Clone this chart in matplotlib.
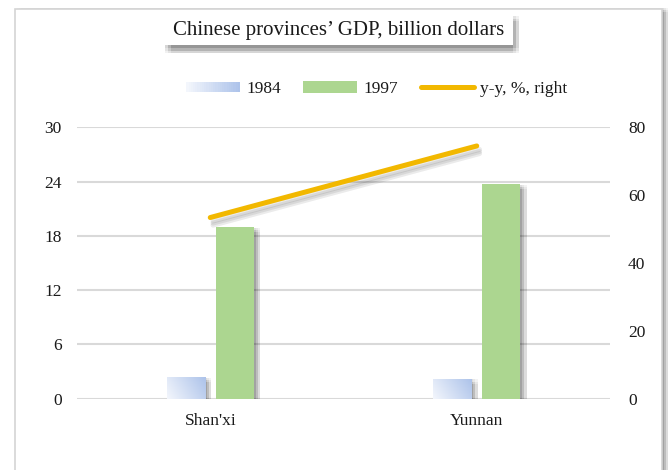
import numpy as np
import matplotlib
matplotlib.use("Agg")
import matplotlib.pyplot as plt
import matplotlib.patheffects as pe
from matplotlib.patches import Rectangle
from matplotlib.legend_handler import HandlerBase
from matplotlib.lines import Line2D
from matplotlib.colors import LinearSegmentedColormap

# ---- data ----
categories = ["Shan'xi", "Yunnan"]
gdp_1984 = [2.4, 2.2]
gdp_1997 = [19.0, 23.7]
yy_growth = [53.4, 74.5]
left_ticks = [0, 6, 12, 18, 24, 30]
right_ticks = [0, 20, 40, 60, 80]
title = "Chinese provinces\u2019 GDP, billion dollars"
series_labels = ["1984", "1997", "y-y, %, right"]

# ---- style ----
plt.rcParams['font.family'] = ['Liberation Serif', 'DejaVu Serif']
plt.rcParams['font.size'] = 12.5
GREEN = "#acd690"
BLUE_DARK = "#adc3ea"
BLUE_LIGHT = "#f3f6fc"
GOLD = "#f2b800"
GRID = "#d9d9d9"
TEXT = "#1a1a1a"
cmap = LinearSegmentedColormap.from_list("g", [BLUE_LIGHT, BLUE_DARK])


def soft_patch_shadow(dx, dy, spread=2, alpha=0.3, n=3):
    effs = []
    steps = np.linspace(-spread, spread, n)
    a = 1 - (1 - alpha) ** (1.0 / (n * n))
    for sx in steps:
        for sy in steps:
            effs.append(pe.SimplePatchShadow(offset=(dx + sx, dy + sy), shadow_rgbFace="k", alpha=a))
    return effs + [pe.Normal()]


def soft_line_shadow(dx, dy, spread=1.5, alpha=0.25, n=3):
    effs = []
    steps = np.linspace(-spread, spread, n)
    a = 1 - (1 - alpha) ** (1.0 / n)
    for sy in steps:
        effs.append(pe.SimpleLineShadow(offset=(dx, dy + sy), shadow_color="k", alpha=a))
    return effs + [pe.Normal()]


W, H = 672, 470
fig = plt.figure(figsize=(W / 100, H / 100), dpi=100)

# outer frame with soft right shadow
frame = Rectangle((15 / W, -0.05), (662 - 15) / W, 1.05 - 9 / H,
                  transform=fig.transFigure, fc="white", ec="#d4d4d4", lw=1.2,
                  path_effects=soft_patch_shadow(3, -1, spread=1.5, alpha=0.35), zorder=-10)
fig.add_artist(frame)

ax = fig.add_axes([77 / W, 1 - 398.7 / H, (610 - 77) / W, (398.7 - 127.3) / H])
ax2 = ax.twinx()
ax.patch.set_visible(False)
ax2.patch.set_visible(False)

x = np.arange(len(categories))
bw = 0.143
off = 0.092

# 1984 gradient bars
bars84 = ax.bar(x - off, gdp_1984, bw, color=BLUE_LIGHT, ec="none", zorder=3,
                path_effects=soft_patch_shadow(3, -2, spread=1.5, alpha=0.35))
grad = np.linspace(0, 1, 64)[None, :] * 0.75 + np.linspace(0, 1, 16)[:, None] * 0.25
for b in bars84:
    x0, y0, w, h = b.get_x(), b.get_y(), b.get_width(), b.get_height()
    im = ax.imshow(grad, extent=(x0, x0 + w, y0, y0 + h), origin="lower", cmap=cmap,
                   aspect="auto", zorder=3.5, interpolation="bilinear")
    im.set_clip_path(b)

bars97 = ax.bar(x + off, gdp_1997, bw, color=GREEN, ec="none", zorder=3,
                path_effects=soft_patch_shadow(3, -2, spread=1.5, alpha=0.35))

ax.set_xlim(-0.5, 1.5)
ax.set_ylim(0, 30)
ax.set_yticks(left_ticks)
ax.yaxis.grid(True, color=GRID, lw=1.5)
ax.set_axisbelow(True)
ax.set_xticks(x)
ax.set_xticklabels(categories, color=TEXT)
ax.tick_params(axis="x", length=0, pad=10)
ax.tick_params(axis="y", length=0, pad=11, colors=TEXT)
for s in ax.spines.values():
    s.set_visible(False)

ax2.plot(x, yy_growth, color=GOLD, lw=3.6, solid_capstyle="round", zorder=5,
         path_effects=soft_line_shadow(2, -4, spread=1.5, alpha=0.22))
ax2.set_ylim(0, 80)
ax2.set_yticks(right_ticks)
ax2.tick_params(axis="y", length=0, pad=13, colors=TEXT)
for s in ax2.spines.values():
    s.set_visible(False)

# title box with soft shadow
tb = Rectangle((165 / W, 1 - 45 / H), (513 - 165) / W, (45 - 13) / H, transform=fig.transFigure,
               fc="white", ec="none", path_effects=soft_patch_shadow(2, -4, spread=2, alpha=0.4))
fig.add_artist(tb)
fig.text(339 / W, 1 - 31 / H, title, ha="center", va="center", fontsize=15, color=TEXT)


# legend with gradient handle
class HandlerGradient(HandlerBase):
    def create_artists(self, legend, orig_handle, xdescent, ydescent, width, height, fontsize, trans):
        n = 24
        arts = []
        hh = height * 0.8
        yb = -ydescent + (height - hh) / 2
        for i in range(n):
            c = cmap(i / (n - 1))
            r = Rectangle((-xdescent + width * i / n, yb), width / n * 1.05, hh, fc=c, ec="none",
                          transform=trans)
            arts.append(r)
        return arts


class GradProxy:
    pass


h84 = GradProxy()
h97 = Rectangle((0, 0), 1, 1, fc=GREEN, ec="none")
hyy = Line2D([0], [0], color=GOLD, lw=3.6, solid_capstyle="round")
leg = fig.legend([h84, h97, hyy], series_labels, loc="center", bbox_to_anchor=(377 / W, 1 - 89 / H),
                 ncol=3, frameon=False, fontsize=12.5, handlelength=3.1, handleheight=0.7,
                 handletextpad=0.35, columnspacing=1.3, handler_map={GradProxy: HandlerGradient()})
for t in leg.get_texts():
    t.set_color(TEXT)

fig.savefig("out.png", dpi=100)
